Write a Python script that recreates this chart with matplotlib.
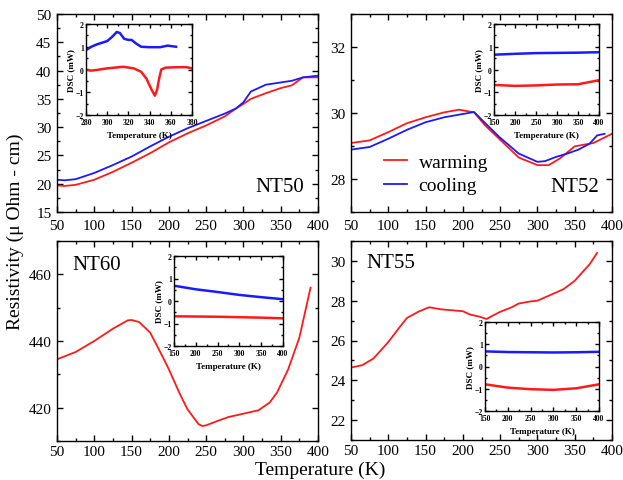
import matplotlib
matplotlib.use("Agg")
import matplotlib.pyplot as plt
from matplotlib.ticker import MultipleLocator

plt.rcParams['font.family'] = ['Liberation Serif', 'DejaVu Serif']

# ---------------- data ----------------
# NT50
nt50_T_w = [50, 60, 75, 100, 125, 150, 175, 200, 225, 250, 275, 290, 300, 310, 330, 350, 365, 380, 400]
nt50_R_w = [19.7, 19.6, 19.8, 20.7, 22.1, 23.7, 25.4, 27.3, 28.9, 30.3, 31.9, 33.3, 34.1, 35.0, 36.0, 36.9, 37.4, 38.8, 38.8]
nt50_T_c = [50, 60, 75, 100, 125, 150, 175, 200, 225, 250, 275, 290, 300, 310, 330, 350, 365, 380, 400]
nt50_R_c = [20.7, 20.6, 20.8, 21.9, 23.3, 24.8, 26.6, 28.3, 29.8, 31.1, 32.4, 33.3, 34.4, 36.3, 37.5, 37.9, 38.2, 38.8, 39.1]
nt50_dsc_T_w = [280, 285, 290, 300, 315, 325, 332, 337, 342, 345, 347, 349, 351, 355, 365, 375, 380]
nt50_dsc_w = [0.0, -0.05, -0.02, 0.05, 0.12, 0.05, -0.1, -0.4, -0.9, -1.15, -0.9, -0.4, 0.0, 0.08, 0.1, 0.1, 0.05]
nt50_dsc_T_c = [280, 285, 290, 300, 305, 309, 312, 316, 320, 323, 327, 332, 340, 350, 357, 365]
nt50_dsc_c = [0.85, 1.0, 1.1, 1.25, 1.45, 1.65, 1.6, 1.35, 1.3, 1.3, 1.15, 1.0, 0.98, 0.98, 1.05, 1.0]

# NT52
nt52_T_w = [50, 75, 100, 125, 150, 175, 195, 215, 230, 250, 275, 300, 315, 330, 350, 375, 400]
nt52_R_w = [29.09, 29.17, 29.42, 29.69, 29.87, 30.02, 30.1, 30.02, 29.62, 29.19, 28.65, 28.42, 28.42, 28.62, 28.99, 29.09, 29.37]
nt52_T_c = [50, 75, 100, 125, 150, 175, 200, 215, 230, 250, 275, 300, 310, 325, 340, 355, 370, 380, 390]
nt52_R_c = [28.89, 28.97, 29.22, 29.49, 29.72, 29.87, 29.97, 30.03, 29.69, 29.25, 28.77, 28.52, 28.54, 28.67, 28.77, 28.89, 29.07, 29.32, 29.37]
nt52_dsc_T = [150, 200, 250, 300, 350, 400]
nt52_dsc_w = [-0.68, -0.72, -0.7, -0.66, -0.65, -0.47]
nt52_dsc_c = [0.65, 0.69, 0.72, 0.73, 0.74, 0.76]

# NT60
nt60_T = [50, 75, 100, 125, 145, 150, 160, 175, 190, 200, 215, 225, 240, 245, 250, 265, 280, 300, 320, 335, 345, 360, 375, 390]
nt60_R = [434.5, 436.7, 440.0, 443.7, 446.2, 446.3, 445.7, 442.5, 436.0, 431.5, 424.0, 419.5, 415.0, 414.5, 414.7, 416.0, 417.2, 418.2, 419.2, 421.5, 424.5, 431.5, 441.0, 456.0]
nt60_dsc_T = [150, 200, 250, 300, 350, 400]
nt60_dsc_w = [-0.68, -0.69, -0.7, -0.72, -0.74, -0.77]
nt60_dsc_c = [0.68, 0.52, 0.40, 0.27, 0.17, 0.08]

# NT55
nt55_T = [50, 65, 80, 100, 115, 125, 140, 150, 155, 170, 200, 210, 222, 232, 240, 250, 265, 275, 290, 300, 320, 335, 350, 360, 370, 380]
nt55_R = [24.64, 24.76, 25.09, 25.92, 26.66, 27.13, 27.44, 27.6, 27.67, 27.57, 27.47, 27.3, 27.2, 27.08, 27.25, 27.44, 27.66, 27.86, 27.96, 28.0, 28.33, 28.58, 29.0, 29.42, 29.83, 30.4]
nt55_dsc_T = [150, 200, 250, 300, 350, 400]
nt55_dsc_w = [-0.8, -0.95, -1.02, -1.05, -0.98, -0.8]
nt55_dsc_c = [0.68, 0.65, 0.64, 0.63, 0.64, 0.66]

RED = '#ff1a1a'
BLUE = '#1a1aff'

W, H = 623, 481
fig = plt.figure(figsize=(W / 100, H / 100), dpi=100)


def px_axes(l, r, t, b):
    return fig.add_axes([l / W, 1 - b / H, (r - l) / W, (b - t) / H])


def style(ax, xmaj, xmin, ymaj, ymin, size, lw=1.0, bold=False, ticklen=4, xpad=4, ypad=4):
    ax.xaxis.set_major_locator(MultipleLocator(xmaj))
    ax.xaxis.set_minor_locator(MultipleLocator(xmin))
    ax.yaxis.set_major_locator(MultipleLocator(ymaj))
    ax.yaxis.set_minor_locator(MultipleLocator(ymin))
    ax.tick_params(which='both', direction='in', top=True, right=True, width=lw,
                   labelsize=size)
    ax.tick_params(axis='x', pad=xpad)
    ax.tick_params(axis='y', pad=ypad)
    ax.tick_params(which='major', length=ticklen)
    ax.tick_params(which='minor', length=ticklen * 0.6)
    for s in ax.spines.values():
        s.set_linewidth(lw)
    if bold:
        for lab in ax.get_xticklabels() + ax.get_yticklabels():
            lab.set_fontweight('bold')


def inset(l, r, t, b, xlim, xmaj, xmin, Tw, w, Tc, c):
    ax = px_axes(l, r, t, b)
    ax.plot(Tc, c, color=BLUE, lw=1.8)
    ax.plot(Tw, w, color=RED, lw=1.8)
    ax.set_xlim(*xlim)
    ax.set_ylim(-2, 2)
    style(ax, xmaj, xmin, 1, 0.5, 5.5, lw=1.0, bold=True, ticklen=3, xpad=2.5, ypad=1.5)
    ax.set_xlabel('Temperature (K)', fontsize=6.5, fontweight='bold', labelpad=3)
    ax.set_ylabel('DSC (mW)', fontsize=6.5, fontweight='bold', labelpad=0)
    return ax


# NT50
ax1 = px_axes(57, 318, 15, 213)
ax1.plot(nt50_T_w, nt50_R_w, color=RED, lw=1.3)
ax1.plot(nt50_T_c, nt50_R_c, color=BLUE, lw=1.3)
ax1.set_xlim(50, 400)
ax1.set_ylim(15, 50)
style(ax1, 50, 25, 5, 2.5, 11, xpad=5)
ax1.text(0.945, 0.13, 'NT50', transform=ax1.transAxes, ha='right', va='center', fontsize=15)
inset(86, 192, 25, 116, (280, 380), 20, 10, nt50_dsc_T_w, nt50_dsc_w, nt50_dsc_T_c, nt50_dsc_c)

# NT52
ax2 = px_axes(351, 612, 15, 213)
lw_, = ax2.plot(nt52_T_w, nt52_R_w, color=RED, lw=1.3, label='warming')
lc_, = ax2.plot(nt52_T_c, nt52_R_c, color=BLUE, lw=1.3, label='cooling')
ax2.set_xlim(50, 400)
ax2.set_ylim(27, 33)
style(ax2, 50, 25, 2, 1, 11, xpad=5)
ax2.text(0.95, 0.13, 'NT52', transform=ax2.transAxes, ha='right', va='center', fontsize=15)
ax2.legend(handles=[lw_, lc_], loc='lower left', bbox_to_anchor=(0.08, 0.03),
           frameon=False, fontsize=14, handlelength=1.2, handletextpad=0.6,
           labelspacing=0.3, borderaxespad=0.2)
inset(494, 599, 25, 116, (150, 400), 50, 25, nt52_dsc_T, nt52_dsc_w, nt52_dsc_T, nt52_dsc_c)

# NT60
ax3 = px_axes(57, 318, 242, 442)
ax3.plot(nt60_T, nt60_R, color=RED, lw=1.3)
ax3.set_xlim(50, 400)
ax3.set_ylim(410, 470)
style(ax3, 50, 25, 20, 10, 11, xpad=3)
ax3.text(0.06, 0.88, 'NT60', transform=ax3.transAxes, ha='left', va='center', fontsize=15)
inset(174, 283, 257, 347, (150, 400), 50, 25, nt60_dsc_T, nt60_dsc_w, nt60_dsc_T, nt60_dsc_c)

# NT55
ax4 = px_axes(351, 612, 242, 441)
ax4.plot(nt55_T, nt55_R, color=RED, lw=1.3)
ax4.set_xlim(50, 400)
ax4.set_ylim(21, 31)
style(ax4, 50, 25, 2, 1, 11, xpad=3)
ax4.text(0.06, 0.89, 'NT55', transform=ax4.transAxes, ha='left', va='center', fontsize=15)
inset(485, 599, 323, 412, (150, 400), 50, 25, nt55_dsc_T, nt55_dsc_w, nt55_dsc_T, nt55_dsc_c)

fig.text(320 / W, 1 - 470 / H, 'Temperature (K)', ha='center', va='center', fontsize=14)
fig.text(15 / W, 1 - 232 / H, 'Resistivity (\u03bc Ohm - cm)', ha='center', va='center',
         rotation=90, fontsize=14)

fig.savefig('out.png', dpi=100)
